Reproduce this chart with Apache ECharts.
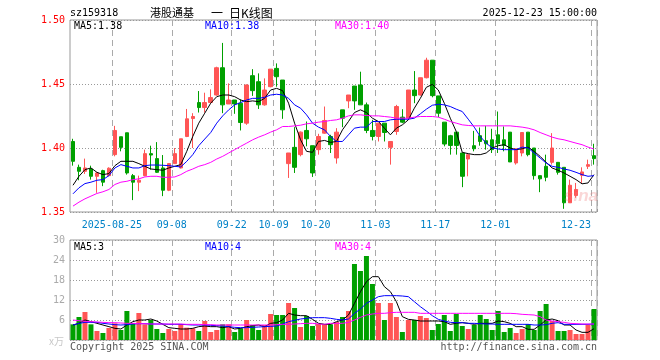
<!DOCTYPE html>
<html><head><meta charset="utf-8">
<script src="https://cdn.jsdelivr.net/npm/echarts@6/dist/echarts.min.js"></script>
<style>html,body{margin:0;padding:0;background:#fff}#c{width:660px;height:360px}</style>
</head><body><div id="c"></div>
<script>
const dates = [
'2025-08-14','2025-08-15','2025-08-18','2025-08-19','2025-08-20','2025-08-21','2025-08-22',
'2025-08-25','2025-08-26','2025-08-27','2025-08-28','2025-08-29',
'2025-09-01','2025-09-02','2025-09-03','2025-09-04','2025-09-05',
'2025-09-08','2025-09-09','2025-09-10','2025-09-11','2025-09-12',
'2025-09-15','2025-09-16','2025-09-17','2025-09-18','2025-09-19',
'2025-09-22','2025-09-23','2025-09-24','2025-09-25','2025-09-26',
'2025-09-29','2025-09-30','2025-10-09','2025-10-10',
'2025-10-13','2025-10-14','2025-10-15','2025-10-16','2025-10-17',
'2025-10-20','2025-10-21','2025-10-22','2025-10-23','2025-10-24',
'2025-10-27','2025-10-28','2025-10-29','2025-10-30','2025-10-31',
'2025-11-03','2025-11-04','2025-11-05','2025-11-06','2025-11-07',
'2025-11-10','2025-11-11','2025-11-12','2025-11-13','2025-11-14',
'2025-11-17','2025-11-18','2025-11-19','2025-11-20','2025-11-21',
'2025-11-24','2025-11-25','2025-11-26','2025-11-27','2025-11-28',
'2025-12-01','2025-12-02','2025-12-03','2025-12-04','2025-12-05',
'2025-12-08','2025-12-09','2025-12-10','2025-12-11','2025-12-12',
'2025-12-15','2025-12-16','2025-12-17','2025-12-18','2025-12-19',
'2025-12-22','2025-12-23'];

const opens = [1.4051,1.3849,1.3818,1.3836,1.3779,1.3823,1.3784,1.3948,1.4088,1.4119,
1.3784,1.3733,1.3784,1.3956,1.3917,1.3844,1.3670,1.3878,1.3844,1.4090,
1.4230,1.4355,1.4316,1.4355,1.4414,1.4627,1.4344,1.4375,1.4350,1.4194,
1.4565,1.4518,1.4337,1.4479,1.4622,1.4531,1.3878,1.4005,1.3948,1.4137,
1.4018,1.3987,1.4116,1.4090,1.3922,1.4298,1.4368,1.4484,1.4492,1.4337,
1.4137,1.4090,1.4194,1.4005,1.4129,1.4241,1.4233,1.4453,1.4414,1.4549,
1.4686,1.4407,1.4202,1.4096,1.4124,1.3961,1.3914,1.4018,1.4096,1.4057,
1.4064,1.4103,1.4064,1.4124,1.3883,1.3961,1.4124,1.4000,1.3784,1.3857,
1.3888,1.3888,1.3849,1.3572,1.3629,1.3787,1.3857,1.3940];
const closes = [1.3896,1.3818,1.3844,1.3779,1.3805,1.3733,1.3842,1.4137,1.4005,1.3805,
1.3733,1.3748,1.3956,1.3945,1.3810,1.3670,1.3878,1.3956,1.4072,1.4228,
1.4246,1.4316,1.4355,1.4394,1.4627,1.4337,1.4375,1.4344,1.4199,1.4492,
1.4448,1.4337,1.4453,1.4616,1.4557,1.4298,1.3961,1.3849,1.4124,1.4072,
1.3805,1.4090,1.4215,1.4026,1.4124,1.4233,1.4414,1.4368,1.4337,1.4137,
1.4090,1.4194,1.4121,1.4051,1.4324,1.4202,1.4453,1.4409,1.4549,1.4686,
1.4409,1.4272,1.4031,1.4020,1.4020,1.3779,1.3948,1.3994,1.4051,1.4033,
1.3987,1.4033,1.4020,1.3891,1.3994,1.4121,1.3948,1.3784,1.3759,1.3771,
1.4000,1.3810,1.3572,1.3709,1.3676,1.3813,1.3870,1.3917];
const lows = [1.3862,1.3748,1.3797,1.3753,1.3650,1.3702,1.3779,1.3935,1.3974,1.3792,
1.3593,1.3663,1.3779,1.3831,1.3805,1.3624,1.3663,1.3878,1.3840,1.4085,
1.4000,1.4277,1.4277,1.4350,1.4409,1.4272,1.4344,1.4267,1.4137,1.4181,
1.4407,1.4305,1.4331,1.4474,1.4479,1.4228,1.3766,1.3805,1.3935,1.4013,
1.3774,1.3948,1.4111,1.3961,1.3878,1.4163,1.4311,1.4298,1.4337,1.4116,
1.4059,1.4051,1.4051,1.3870,1.4103,1.4194,1.4228,1.4350,1.4409,1.4544,
1.4396,1.4241,1.4013,1.3948,1.3948,1.3694,1.3779,1.3974,1.4018,1.3987,
1.3961,1.3961,1.3974,1.3891,1.3870,1.3935,1.3935,1.3753,1.3655,1.3740,
1.3870,1.3792,1.3525,1.3572,1.3611,1.3727,1.3836,1.3870];
const highs = [1.4072,1.3870,1.3917,1.3862,1.3810,1.3830,1.3849,1.4173,1.4088,1.4119,
1.3797,1.3784,1.3987,1.4018,1.4046,1.3945,1.3880,1.4000,1.4072,1.4305,
1.4272,1.4445,1.4432,1.4458,1.4635,1.4821,1.4505,1.4375,1.4380,1.4497,
1.4616,1.4583,1.4544,1.4616,1.4661,1.4531,1.3961,1.4163,1.4129,1.4207,
1.4018,1.4111,1.4324,1.4103,1.4155,1.4298,1.4414,1.4484,1.4596,1.4355,
1.4220,1.4194,1.4194,1.4051,1.4337,1.4303,1.4453,1.4601,1.4549,1.4705,
1.4686,1.4407,1.4202,1.4103,1.4124,1.3961,1.3948,1.4134,1.4160,1.4173,
1.4150,1.4285,1.4168,1.4124,1.3994,1.4121,1.4124,1.4000,1.3784,1.3948,
1.4116,1.3888,1.3849,1.3753,1.3727,1.3849,1.3909,1.4033];

const ma5 = [1.3709,1.3779,1.3831,1.3844,1.3810,1.3792,1.3800,1.3862,1.3896,1.3896,
1.3896,1.3878,1.3857,1.3836,1.3831,1.3826,1.3844,1.3857,1.3870,1.3974,
1.4090,1.4194,1.4272,1.4350,1.4401,1.4414,1.4414,1.4401,1.4375,1.4362,
1.4368,1.4362,1.4388,1.4453,1.4466,1.4448,1.4350,1.4194,1.4064,1.3974,
1.3966,1.4051,1.4059,1.4044,1.4051,1.4142,1.4207,1.4277,1.4298,1.4277,
1.4233,1.4207,1.4155,1.4103,1.4155,1.4181,1.4220,1.4311,1.4388,1.4474,
1.4497,1.4453,1.4350,1.4233,1.4129,1.3966,1.3956,1.3948,1.3948,1.3961,
1.4000,1.4018,1.4026,1.4000,1.3987,1.3994,1.4007,1.3974,1.3935,1.3888,
1.3844,1.3826,1.3805,1.3779,1.3753,1.3720,1.3727,1.3792];
const ma10 = [1.3642,1.3689,1.3722,1.3733,1.3748,1.3753,1.3784,1.3844,1.3870,1.3857,
1.3844,1.3844,1.3862,1.3867,1.3867,1.3865,1.3862,1.3857,1.3852,1.3896,
1.3948,1.4018,1.4070,1.4121,1.4194,1.4251,1.4298,1.4337,1.4355,1.4375,
1.4388,1.4388,1.4396,1.4414,1.4420,1.4414,1.4388,1.4337,1.4311,1.4259,
1.4194,1.4163,1.4142,1.4090,1.4051,1.4051,1.4103,1.4155,1.4163,1.4163,
1.4207,1.4207,1.4207,1.4220,1.4225,1.4225,1.4225,1.4233,1.4267,1.4303,
1.4334,1.4342,1.4337,1.4324,1.4303,1.4285,1.4225,1.4163,1.4090,1.4038,
1.4000,1.3992,1.3987,1.3987,1.3987,1.4007,1.4000,1.3961,1.3922,1.3883,
1.3857,1.3849,1.3836,1.3826,1.3810,1.3792,1.3779,1.3784];
const ma30 = [1.3546,1.3577,1.3603,1.3624,1.3645,1.3658,1.3676,1.3715,1.3733,1.3740,
1.3753,1.3759,1.3774,1.3779,1.3779,1.3771,1.3771,1.3774,1.3792,1.3818,
1.3836,1.3857,1.3870,1.3888,1.3914,1.3935,1.3961,1.3987,1.4013,1.4038,
1.4064,1.4085,1.4103,1.4124,1.4142,1.4168,1.4168,1.4173,1.4178,1.4189,
1.4194,1.4202,1.4207,1.4215,1.4220,1.4233,1.4251,1.4259,1.4259,1.4254,
1.4251,1.4251,1.4246,1.4241,1.4233,1.4233,1.4233,1.4241,1.4246,1.4246,
1.4246,1.4241,1.4225,1.4207,1.4194,1.4181,1.4176,1.4173,1.4173,1.4173,
1.4173,1.4173,1.4173,1.4173,1.4168,1.4163,1.4155,1.4142,1.4121,1.4103,
1.4085,1.4072,1.4064,1.4051,1.4038,1.4026,1.4007,1.3992];

const volumes = [4.7,6.9,8.4,4.7,2.7,2.1,3.6,5.0,3.0,8.7,
5.0,8.1,4.7,6.0,3.3,2.1,3.3,2.7,4.8,3.7,
3.5,2.7,5.7,2.4,3.0,4.7,4.7,2.4,3.5,6.0,
4.5,3.0,4.5,7.8,7.5,7.5,11.1,9.6,3.9,7.2,
4.2,4.8,4.8,4.7,5.4,6.9,8.7,22.8,20.7,25.2,
16.8,11.1,6.0,11.1,6.9,2.4,6.0,6.0,7.2,6.6,
3.0,4.8,7.5,2.7,7.8,4.2,3.3,4.5,7.5,6.3,
3.0,8.7,2.4,3.6,2.1,3.3,4.8,3.0,8.7,10.8,
5.7,2.7,2.7,3.0,1.8,1.8,4.5,9.3];
const volMa5 = [4.5,5.0,6.0,5.5,5.0,4.5,4.0,3.5,3.3,4.5,
5.5,6.0,6.0,6.3,5.7,4.7,3.7,3.5,3.3,3.3,
3.5,4.0,4.2,4.0,4.0,3.7,4.0,3.3,3.5,4.0,
4.3,4.5,4.0,5.0,5.2,6.0,8.0,7.5,7.3,7.3,
6.2,5.0,4.7,4.7,5.5,6.0,7.5,11.0,14.5,17.5,
19.0,19.0,16.0,14.5,11.5,7.0,6.2,6.0,5.7,5.7,
5.7,5.7,5.5,4.7,5.0,5.2,5.0,4.7,5.0,5.0,
5.0,5.7,5.5,5.0,4.0,4.0,3.2,3.2,4.5,6.0,
6.3,5.8,4.5,4.5,3.0,2.3,2.3,3.4];
const volMa10 = [4.5,5.0,5.3,5.3,5.3,5.0,4.8,4.6,4.5,4.6,
4.8,4.9,4.9,4.8,4.8,4.8,4.7,4.7,4.7,4.6,
4.5,4.5,4.5,4.4,4.3,4.2,4.0,3.8,3.7,3.7,
3.8,3.9,4.0,4.1,4.2,4.8,5.5,5.9,6.3,6.5,
6.7,6.7,6.7,6.5,6.2,6.0,6.3,8.0,9.3,11.0,
12.0,13.0,13.3,13.3,13.3,13.2,13.0,11.5,10.0,8.7,
7.3,6.2,5.7,5.3,5.2,5.2,5.0,5.0,4.9,4.8,
4.8,4.7,4.7,4.7,4.7,4.7,4.7,4.5,4.5,4.6,
5.0,5.2,4.7,4.7,4.7,4.7,4.7,4.8];
const volMa30 = [6.0,5.8,5.6,5.5,5.4,5.3,5.2,5.2,5.1,5.0,
5.0,4.9,4.9,4.8,4.8,4.8,4.8,4.8,4.8,4.7,
4.7,4.7,4.6,4.6,4.5,4.5,4.5,4.5,4.5,4.5,
4.5,4.5,4.5,4.5,4.6,4.7,4.7,4.8,4.9,5.0,
5.0,4.8,4.7,5.0,5.0,5.0,5.3,6.0,6.8,7.5,
7.8,8.0,8.0,8.2,8.3,8.3,8.3,8.3,8.0,8.0,
8.0,8.0,8.0,8.0,8.0,8.0,8.0,8.0,8.0,8.0,
8.0,8.0,8.0,8.0,7.9,7.7,7.6,7.5,7.0,6.0,
5.7,5.5,5.3,5.0,4.9,4.8,4.8,4.8];

const tickDates = ['2025-08-25','2025-09-08','2025-09-22','2025-10-09','2025-10-20','2025-11-03','2025-11-17','2025-12-01','2025-12-23'];
const tickTexts = ['2025-08-25','09-08','09-22','10-09','10-20','11-03','11-17','12-01','12-23'];
const priceTicks = [1.35, 1.50, 0.05];
const volTicks = [0, 30, 6];

const UP = '#ff5555', DOWN = '#00a000';
const MONO = "'DejaVu Sans Mono', monospace";
const tickIdx = tickDates.map(d => dates.indexOf(d));
const showTick = (i) => tickIdx.indexOf(i) >= 0;

const candleData = dates.map((d, i) => [opens[i], closes[i], lows[i], highs[i]]);
const volData = volumes.map((v, i) => ({ value: v, itemStyle: { color: closes[i] >= opens[i] ? UP : DOWN } }));

const splitDash = { show: true, interval: showTick, lineStyle: { color: '#aaa', type: [6, 4], width: 1 } };
const txt = (x, y, text, fill, font, align) => ({
  type: 'text', x: x, y: y, silent: true, z: 100,
  style: { text: text, fill: fill, font: font || ('10px ' + MONO), textAlign: align || 'left', textVerticalAlign: 'middle' }
});

const chart = echarts.init(document.getElementById('c'));
chart.setOption({
  animation: false,
  backgroundColor: '#ffffff',
  grid: [
    { left: 70, top: 20, width: 527, height: 192, show: true, borderColor: '#999', borderWidth: 1, backgroundColor: 'transparent' },
    { left: 70, top: 240, width: 527, height: 100, show: true, borderColor: '#999', borderWidth: 1, backgroundColor: 'transparent' }
  ],
  xAxis: [
    { type: 'category', gridIndex: 0, data: dates, boundaryGap: true,
      axisLine: { show: false },
      axisTick: { show: true, inside: true, length: 3, interval: showTick, lineStyle: { color: '#999' } },
      axisLabel: { show: true, interval: showTick, color: '#0082c8', fontFamily: MONO, fontSize: 10, margin: 8,
        formatter: (val, idx) => {
          const k = tickIdx.indexOf(idx);
          if (k < 0) return '';
          return (k === tickIdx.length - 1 ? '{b|' : '{a|') + tickTexts[k] + '}';
        },
        rich: {
          a: { color: '#0082c8', fontFamily: MONO, fontSize: 10, padding: [0, 6, 0, 0] },
          b: { color: '#0082c8', fontFamily: MONO, fontSize: 10, padding: [0, 36, 0, 0] }
        } },
      splitLine: splitDash },
    { type: 'category', gridIndex: 1, data: dates, boundaryGap: true,
      axisLine: { show: false }, axisTick: { show: false }, axisLabel: { show: false },
      splitLine: splitDash }
  ],
  yAxis: [
    { type: 'value', gridIndex: 0, min: priceTicks[0], max: priceTicks[1], interval: priceTicks[2],
      axisLine: { show: false }, axisTick: { show: false },
      axisLabel: { color: '#ff0000', fontFamily: MONO, fontSize: 10, margin: 5, formatter: v => v.toFixed(2) },
      splitLine: { show: true, lineStyle: { color: '#999', type: [1, 2], width: 1 } } },
    { type: 'value', gridIndex: 1, min: volTicks[0], max: volTicks[1], interval: volTicks[2],
      axisLine: { show: false }, axisTick: { show: false },
      axisLabel: { color: '#aaa', fontFamily: MONO, fontSize: 10, margin: 5, formatter: v => v === 0 ? '' : String(v) },
      splitLine: { show: true, lineStyle: { color: '#999', type: [1, 2], width: 1 } } }
  ],
  series: [
    { type: 'candlestick', xAxisIndex: 0, yAxisIndex: 0, data: candleData, barWidth: 4,
      itemStyle: { color: UP, color0: DOWN, borderColor: UP, borderColor0: DOWN, borderWidth: 1 } },
    { type: 'line', xAxisIndex: 0, yAxisIndex: 0, data: ma5, symbol: 'none', lineStyle: { color: '#000', width: 1 }, z: 5 },
    { type: 'line', xAxisIndex: 0, yAxisIndex: 0, data: ma10, symbol: 'none', lineStyle: { color: '#0000ff', width: 1 }, z: 5 },
    { type: 'line', xAxisIndex: 0, yAxisIndex: 0, data: ma30, symbol: 'none', lineStyle: { color: '#ff00ff', width: 1 }, z: 5 },
    { type: 'bar', xAxisIndex: 1, yAxisIndex: 1, data: volData, barWidth: 5 },
    { type: 'line', xAxisIndex: 1, yAxisIndex: 1, data: volMa5, symbol: 'none', lineStyle: { color: '#000', width: 1 }, z: 5 },
    { type: 'line', xAxisIndex: 1, yAxisIndex: 1, data: volMa10, symbol: 'none', lineStyle: { color: '#0000ff', width: 1 }, z: 5 },
    { type: 'line', xAxisIndex: 1, yAxisIndex: 1, data: volMa30, symbol: 'none', lineStyle: { color: '#ff00ff', width: 1 }, z: 5 }
  ],
  graphic: [
    txt(70, 13, 'sz159318', '#000'),
    txt(150, 13, '港股通基', '#000', "11px 'Noto Sans CJK SC'"),
    txt(211, 13, '一', '#000', "12px 'Noto Sans CJK SC'"),
    txt(229, 13, '日K线图', '#000', "12px 'Noto Sans CJK SC'"),
    txt(597, 13, '2025-12-23 15:00:00', '#000', null, 'right'),
    txt(74, 26, 'MA5:1.38', '#000'),
    txt(205, 26, 'MA10:1.38', '#0000ff'),
    txt(335, 26, 'MA30:1.40', '#ff00ff'),
    txt(74, 247, 'MA5:3', '#000'),
    txt(205, 247, 'MA10:4', '#0000ff'),
    txt(335, 247, 'MA30:4', '#ff00ff'),
    txt(64, 341, 'x万', '#c8c8c8', "10px 'Noto Sans CJK SC'", 'right'),
    txt(70, 347, 'Copyright 2025 SINA.COM', '#555'),
    txt(597, 347, 'http://finance.sina.com.cn', '#555', null, 'right'),
    txt(598, 196, 'sina', 'rgba(240,120,120,0.30)', "italic bold 17px 'Liberation Sans'", 'right')
  ]
});
</script>
</body></html>
